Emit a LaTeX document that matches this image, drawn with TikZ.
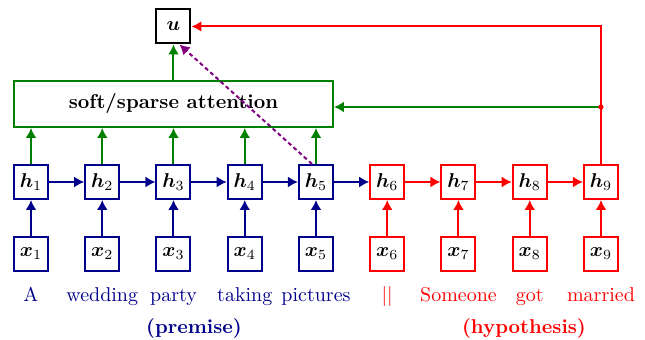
\documentclass[tikz,border=0pt]{standalone}
\usepackage{amsmath}
\usetikzlibrary{arrows.meta,calc}
\definecolor{myblue}{RGB}{0,0,139}
\definecolor{mygreen}{RGB}{0,128,0}
\definecolor{myred}{RGB}{255,0,0}
\definecolor{mypurple}{RGB}{128,0,128}
\begin{document}
\begin{tikzpicture}[x=0.5pt,y=-0.5pt,
  box/.style={draw,line width=1pt,minimum size=17pt,inner sep=0pt,fill=white},
  arr/.style={line width=1pt,-{Latex[length=5pt,width=5.5pt]}},
  word/.style={anchor=base,inner sep=0pt,font=\normalsize}]
\useasboundingbox (0,0) rectangle (645,340);
% nodes
\node[box] (u) at (173.5,26.5) {$\boldsymbol{u}$};
\node[draw=mygreen,line width=1pt,minimum width=159.5pt,minimum height=23pt,inner sep=0pt] (att) at (173.5,104) {\textbf{soft/sparse attention}};
\foreach \i/\c in {1/myblue,2/myblue,3/myblue,4/myblue,5/myblue,6/myred,7/myred,8/myred,9/myred}{
  \pgfmathsetmacro{\xx}{31+71.25*(\i-1)}
  \node[box,draw=\c] (h\i) at (\xx,182) {$\boldsymbol{h}_{\i}$};
  \node[box,draw=\c] (x\i) at (\xx,254) {$\boldsymbol{x}_{\i}$};
  \draw[arr,\c] (x\i) -- (h\i);
}
\foreach \i in {1,...,5}{
  \draw[arr,mygreen] (h\i.north) -- (h\i.north |- att.south);
}
\foreach \i/\j in {1/2,2/3,3/4,4/5,5/6}{ \draw[arr,myblue] (h\i) -- (h\j); }
\foreach \i/\j in {6/7,7/8,8/9}{ \draw[arr,myred] (h\i) -- (h\j); }
\draw[arr,mygreen] (att.north) -- (u.south);
% right feedback
\coordinate (dot) at (601,107);
\draw[arr,myred] (h9.north) -- (h9.north |- u.east) -- (u.east);
\draw[arr,mygreen] (dot) -- (dot -| att.east);
\fill[myred] (dot) circle (1.3pt);
% dashed
\draw[arr,mypurple,dash pattern=on 2pt off 1.5pt] ([xshift=-2pt]h5.north) -- ([xshift=3pt]u.south);
% words
\node[word,myblue] (w1) at (31,302) {A};
\node[word,myblue] (w2) at (102.25,302) {wedding};
\node[word,myblue] (w3) at (173.5,302) {party};
\node[word,myblue] (w4) at (244.75,302) {taking};
\node[word,myblue] (w5) at (316,302) {pictures};
\node[word,myred] (w6) at (387.25,302) {||};
\node[word,myred] (w7) at (458.5,302) {Someone};
\node[word,myred] (w8) at (529.75,302) {got};
\node[word,myred] (w9) at (601,302) {married};
\node[word,myblue] (prem) at (194,334) {\textbf{(premise)}};
\node[word,myred] (hyp) at (524,334) {\textbf{(hypothesis)}};
\end{tikzpicture}
\end{document}
